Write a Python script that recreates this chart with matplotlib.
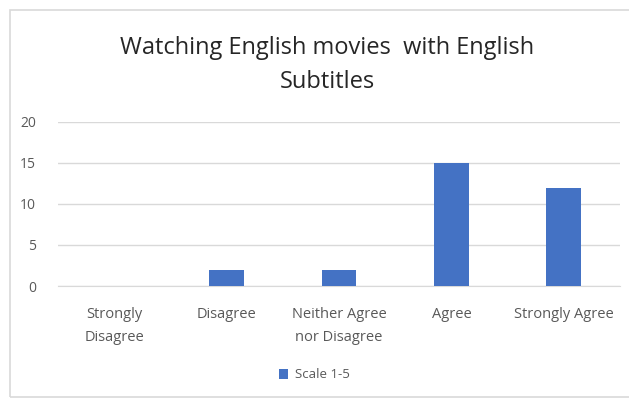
import matplotlib.pyplot as plt
from matplotlib.patches import Rectangle

categories = ["Strongly\nDisagree", "Disagree", "Neither Agree\nnor Disagree", "Agree", "Strongly Agree"]
values = [0, 2, 2, 15, 12]
series_name = "Scale 1-5"
title = "Watching English movies  with English\nSubtitles"

plt.rcParams['font.family'] = ['Open Sans', 'DejaVu Sans']

fig = plt.figure(figsize=(6.29, 4.01), dpi=100)
fig.patches.append(Rectangle((10 / 629, 0.01), 1.0, 0.965, transform=fig.transFigure,
                             fill=False, edgecolor='#d9d9d9', linewidth=1.2))

ax = fig.add_axes([58 / 629, 1 - 286 / 401, 562 / 629, 164 / 401])
x = range(len(categories))
ax.bar(x, values, width=0.31, color='#4472c4', label=series_name, zorder=3)
ax.set_xlim(-0.5, 4.5)
ax.set_ylim(0, 20)
ax.set_yticks([0, 5, 10, 15, 20])
ax.set_xticks(list(x))
ax.set_xticklabels(categories, color='#595959', fontsize=10.5, linespacing=1.75)
ax.tick_params(axis='y', colors='#595959', labelsize=10, length=0, pad=16)
ax.tick_params(axis='x', length=0, pad=15)
ax.grid(axis='y', color='#d9d9d9', linewidth=1, zorder=0)
for s in ['top', 'right', 'left']:
    ax.spines[s].set_visible(False)
ax.spines['bottom'].set_color('#d9d9d9')

fig.text(327 / 629, 1 - 65 / 401, title, ha='center', va='center', fontsize=17,
         color='#262626', linespacing=1.5)

ax.legend(loc='center', bbox_to_anchor=(0.5, (401 - 375) / 401), bbox_transform=fig.transFigure,
          frameon=False, fontsize=9.5, handlelength=0.7, handleheight=0.7, handletextpad=0.5,
          labelcolor='#595959')

fig.savefig('out.png', dpi=100)
